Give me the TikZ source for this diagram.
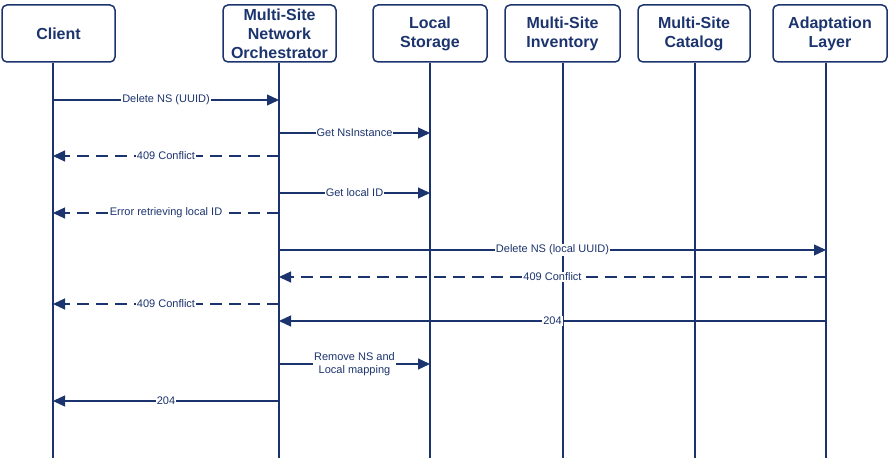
\documentclass[tikz,border=0pt]{standalone}
\usepackage{fontspec}
\setmainfont{Liberation Sans}
\usetikzlibrary{arrows.meta}
\definecolor{navy}{RGB}{28,52,110}
\begin{document}
\begin{tikzpicture}[x=1pt,y=-1pt,
 actor/.style={draw=navy, line width=1.5pt, rounded corners=5pt, text=navy, font=\bfseries\fontsize{16}{19}\selectfont, align=center, inner sep=0pt, minimum height=57pt},
 lifeline/.style={draw=navy, line width=1.3pt},
 msgline/.style={draw=navy, line width=1.2pt, -{Triangle[length=12pt,width=11pt]}},
 reply/.style={msgline, dash pattern=on 12pt off 7pt},
 lbl/.style={fill=white, text=navy, font=\fontsize{11}{13}\selectfont, inner sep=1pt, align=center}]
\useasboundingbox (0,0) rectangle (889,460);
\newcommand\msgto[5]{\draw[#5] (#1 |- 0,#3) -- node[lbl]{#4} (#2 |- 0,#3);}
% actors
\node[actor, minimum width=113pt] (client) at (58.5,33.5) {Client};
\node[actor, minimum width=113pt] (mso) at (279.5,33.5) {Multi-Site\\Network\\Orchestrator};
\node[actor, minimum width=114pt] (ls) at (430,33.5) {Local\\Storage};
\node[actor, minimum width=115pt] (inv) at (562.5,33.5) {Multi-Site\\Inventory};
\node[actor, minimum width=112pt] (cat) at (694,33.5) {Multi-Site\\Catalog};
\node[actor, minimum width=114pt] (ad) at (830,33.5) {Adaptation\\Layer};
% lifeline ends
\coordinate (clB) at (53,458);
\coordinate (msB) at (279,458);
\coordinate (lsB) at (430,458);
\coordinate (invB) at (563,458);
\coordinate (catB) at (695,458);
\coordinate (adB) at (826,458);
\draw[lifeline] (client.south -| clB) -- (clB);
\draw[lifeline] (mso.south -| msB) -- (msB);
\draw[lifeline] (ls.south -| lsB) -- (lsB);
\draw[lifeline] (inv.south -| invB) -- (invB);
\draw[lifeline] (cat.south -| catB) -- (catB);
\draw[lifeline] (ad.south -| adB) -- (adB);
% messages
\msgto{clB}{msB}{100}{Delete NS (UUID)}{msgline}
\msgto{msB}{lsB}{133}{Get NsInstance}{msgline}
\msgto{msB}{clB}{156}{409 Conflict}{reply}
\msgto{msB}{lsB}{193}{Get local ID}{msgline}
\msgto{msB}{clB}{213}{Error retrieving local ID}{reply}
\msgto{msB}{adB}{250}{Delete NS (local UUID)}{msgline}
\msgto{adB}{msB}{277}{409 Conflict}{reply}
\msgto{msB}{clB}{304}{409 Conflict}{reply}
\msgto{adB}{msB}{321}{204}{msgline}
\msgto{msB}{lsB}{364}{Remove NS and\\Local mapping}{msgline}
\msgto{msB}{clB}{401}{204}{msgline}
\end{tikzpicture}
\end{document}
